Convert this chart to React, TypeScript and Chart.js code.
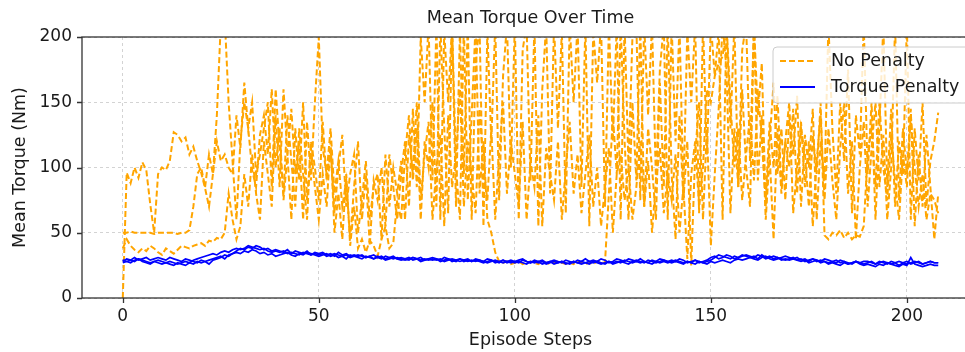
import React, { useEffect, useRef } from "react";
import { Chart, registerables } from "chart.js";

Chart.register(...registerables);

const chartTitle = "Mean Torque Over Time";
const xLabel = "Episode Steps";
const yLabel = "Mean Torque (Nm)";
const seriesNames = ["No Penalty", "Torque Penalty"];
const xTicks = [0, 50, 100, 150, 200];
const yTicks = [0, 50, 100, 150, 200];
const xMin = -10.4;
const xMax = 218.4;
const yMin = 0;
const yMax = 200;

const steps: number[] = Array.from({ length: 209 }, (_, i) => i);

const noPenaltyA = [
  0, 96, 88, 100, 92, 104, 98, 72, 50, 95,
  100, 98, 105, 127, 125, 120, 123, 110, 116, 105,
  96, 84, 70, 95, 140, 210, 215, 150, 105, 60,
  120, 150, 130, 98, 85, 125, 140, 110, 160, 100,
  130, 75, 110, 145, 95, 120, 60, 135, 90, 150,
  200, 115, 95, 130, 80, 105, 70, 90, 45, 85,
  120, 60, 95, 40, 90, 75, 100, 55, 110, 85,
  60, 95, 120, 70, 145, 85, 200, 150, 210, 90,
  210, 60, 205, 150, 210, 70, 205, 95, 210, 60,
  180, 210, 55, 205, 120, 210, 75, 170, 210, 100,
  210, 60, 190, 210, 90, 210, 55, 160, 210, 80,
  210, 130, 205, 65, 210, 150, 210, 85, 210, 55,
  205, 165, 210, 70, 210, 120, 210, 60, 210, 100,
  200, 210, 75, 210, 140, 210, 90, 175, 210, 60,
  210, 120, 210, 80, 205, 150, 210, 65, 210, 110,
  210, 170, 205, 60, 210, 130, 210, 85, 190, 210,
  105, 210, 140, 180, 70, 120, 165, 95, 130, 75,
  140, 110, 155, 70, 125, 100, 145, 60, 120, 90,
  210, 130, 80, 150, 105, 175, 65, 140, 110, 210,
  95, 150, 60, 130, 210, 85, 145, 70, 120, 95,
  210, 60, 130, 90, 150, 70, 105, 120, 142,
];

const noPenaltyB = [
  50, 50, 51, 50, 50, 50, 50, 50, 49, 50,
  50, 50, 50, 50, 49, 50, 50, 52, 70, 95,
  100, 85, 110, 95, 120, 105, 110, 100, 95, 140,
  115, 165, 130, 150, 95, 110, 130, 150, 85, 160,
  115, 80, 140, 105, 70, 130, 95, 60, 120, 100,
  75, 135, 90, 115, 65, 100, 125, 70, 95, 110,
  50, 75, 105, 60, 85, 95, 45, 110, 70, 100,
  80, 105, 60, 125, 95, 150, 75, 110, 135, 60,
  100, 125, 55, 140, 85, 110, 160, 70, 120, 95,
  65, 145, 100, 75, 130, 60, 110, 150, 80, 120,
  95, 70, 135, 60, 105, 85, 140, 55, 115, 95,
  75, 120, 60, 100, 135, 80, 110, 65, 95, 125,
  70, 100, 55, 85, 115, 50, 95, 110, 75, 100,
  60, 85, 120, 70, 105, 50, 90, 115, 65, 95,
  75, 110, 50, 85, 30, 95, 120, 70, 100, 160,
  150, 170, 180, 185, 210, 150, 100, 130, 75, 110,
  140, 90, 160, 120, 75, 135, 100, 155, 85, 120,
  100, 145, 80, 130, 110, 70, 125, 95, 150, 48,
  45, 50, 48, 52, 46, 50, 45, 48, 47, 55,
  110, 130, 85, 150, 100, 75, 125, 90, 60, 110,
  85, 140, 100, 70, 95, 60, 80, 75, 65,
];

const noPenaltyC = [
  38, 45, 40, 37, 35, 38, 36, 40, 38, 35,
  33, 38, 36, 34, 37, 40, 39, 38, 40, 41,
  42, 40, 44, 43, 46, 45, 50, 80, 60, 45,
  55, 95, 70, 110, 80, 60, 120, 95, 70, 140,
  85, 160, 110, 60, 130, 90, 150, 75, 115, 85,
  60, 95, 70, 120, 50, 80, 45, 95, 40, 70,
  38, 45, 35, 44, 40, 32, 45, 55, 38, 42,
  75, 60, 110, 140, 90, 130, 60, 120, 100, 150,
  70, 210, 130, 65, 210, 100, 60, 210, 75, 140,
  210, 80, 120, 60, 50, 35, 28, 27, 28, 26,
  27, 28, 26, 27, 28, 27, 26, 28, 27, 26,
  27, 28, 27, 26, 27, 26, 28, 27, 26, 27,
  26, 28, 27, 27, 80, 140, 95, 210, 120, 60,
  150, 90, 210, 70, 130, 100, 60, 165, 85, 210,
  95, 45, 140, 75, 120, 25, 110, 150, 60, 130,
  40, 95, 145, 210, 175, 65, 130, 85, 160, 100,
  70, 210, 90, 140, 60, 110, 45, 130, 80, 120,
  150, 65, 100, 135, 85, 120, 55, 105, 140, 75,
  130, 90, 60, 115, 150, 80, 120, 45, 100, 135,
  70, 115, 150, 85, 125, 60, 100, 210, 75, 130,
  95, 145, 55, 110, 70, 125, 85, 45, 80,
];

const torquePenaltyA = [
  27, 28, 29, 28, 30, 29, 28, 27, 28, 29,
  28, 27, 28, 27, 26, 27, 28, 27, 29, 30,
  31, 32, 33, 34, 33, 35, 36, 35, 37, 38,
  37, 38, 40, 39, 38, 37, 38, 36, 35, 36,
  35, 36, 34, 35, 34, 33, 35, 34, 33, 34,
  33, 34, 32, 33, 34, 33, 32, 33, 31, 32,
  33, 32, 31, 32, 30, 31, 32, 30, 31, 30,
  31, 30, 29, 30, 31, 30, 29, 30, 29, 30,
  29, 30, 28, 29, 30, 29, 28, 29, 28, 29,
  28, 29, 28, 27, 28, 29, 28, 27, 28, 27,
  28, 27, 29, 28, 27, 28, 27, 28, 26, 27,
  28, 27, 28, 26, 27, 28, 27, 26, 27, 28,
  27, 28, 27, 26, 28, 27, 28, 27, 29, 28,
  27, 28, 27, 28, 27, 26, 28, 27, 28, 27,
  28, 29, 28, 27, 28, 27, 29, 28, 27, 28,
  29, 31, 33, 32, 31, 30, 32, 31, 32, 33,
  32, 31, 33, 32, 30, 31, 32, 31, 30, 29,
  30, 31, 29, 30, 28, 29, 30, 28, 29, 28,
  27, 28, 29, 27, 28, 26, 27, 28, 27, 26,
  27, 28, 26, 27, 28, 27, 26, 27, 28, 27,
  26, 27, 28, 27, 26, 27, 28, 27, 27,
];

const torquePenaltyB = [
  29, 28, 27, 29, 30, 28, 27, 26, 28, 27,
  26, 27, 26, 25, 27, 26, 25, 27, 26, 28,
  27, 28, 29, 30, 31, 32, 30, 33, 34, 35,
  34, 36, 35, 37, 36, 34, 35, 33, 34, 32,
  33, 34, 35, 33, 32, 34, 33, 35, 34, 33,
  32, 33, 34, 32, 33, 31, 32, 30, 33, 32,
  31, 30, 32, 31, 30, 32, 31, 29, 30, 31,
  30, 29, 30, 31, 29, 30, 28, 29, 30, 29,
  30, 28, 29, 30, 28, 29, 30, 28, 29, 28,
  29, 28, 27, 28, 29, 27, 28, 29, 27, 28,
  27, 28, 27, 26, 28, 27, 28, 26, 27, 28,
  26, 27, 28, 27, 26, 28, 27, 28, 27, 26,
  28, 27, 26, 27, 28, 26, 27, 28, 27, 26,
  28, 29, 28, 27, 29, 28, 27, 28, 29, 28,
  27, 28, 27, 26, 28, 27, 26, 28, 27, 26,
  28, 27, 28, 29, 28, 27, 29, 30, 29, 30,
  31, 30, 29, 31, 32, 30, 29, 30, 31, 32,
  31, 30, 29, 28, 29, 27, 28, 29, 27, 28,
  26, 27, 26, 25, 27, 26, 27, 28, 26, 25,
  26, 25, 24, 26, 25, 27, 26, 25, 24, 26,
  25, 31, 26, 25, 24, 25, 26, 25, 25,
];

const torquePenaltyC = [
  28, 30, 29, 31, 29, 30, 31, 29, 30, 31,
  30, 29, 31, 30, 29, 28, 30, 29, 28, 27,
  29, 28, 26, 29, 30, 31, 33, 32, 34, 36,
  38, 37, 39, 38, 40, 39, 37, 38, 36, 37,
  36, 35, 37, 34, 36, 35, 34, 36, 33, 35,
  34, 35, 33, 34, 32, 35, 33, 34, 32, 33,
  32, 33, 31, 32, 33, 31, 30, 32, 31, 32,
  30, 31, 30, 29, 31, 30, 31, 29, 30, 31,
  30, 29, 31, 30, 29, 28, 30, 29, 30, 28,
  30, 29, 28, 30, 29, 28, 27, 29, 28, 29,
  28, 29, 30, 28, 27, 29, 28, 29, 27, 28,
  29, 28, 27, 29, 28, 27, 29, 28, 30, 28,
  29, 28, 30, 29, 27, 28, 30, 29, 28, 30,
  29, 28, 30, 28, 27, 29, 28, 30, 29, 28,
  29, 28, 30, 29, 27, 28, 29, 27, 28, 29,
  31, 32, 30, 31, 33, 32, 30, 31, 33, 32,
  31, 32, 30, 33, 31, 32, 30, 31, 29, 30,
  29, 30, 31, 29, 30, 28, 30, 29, 28, 30,
  29, 28, 27, 29, 28, 27, 26, 28, 27, 28,
  28, 27, 26, 28, 27, 26, 28, 27, 25, 27,
  28, 26, 27, 28, 26, 27, 28, 27, 27,
];

const ORANGE = "#FFA500";
const BLUE = "#0000FF";
const FONT = "'DejaVu Sans', sans-serif";
const TEXT = "#1a1a1a";

const toPoints = (arr: number[]) => steps.map((s, i) => ({ x: s, y: arr[i] }));

const decorPlugin = {
  id: "decor",
  afterDraw(chart: any) {
    const { ctx, chartArea: a, scales } = chart;
    ctx.save();
    ctx.strokeStyle = "#333333";
    ctx.lineWidth = 1.3;
    ctx.setLineDash([]);
    ctx.strokeRect(a.left, a.top, a.right - a.left, a.bottom - a.top);
    ctx.beginPath();
    for (const v of xTicks) {
      const px = Math.round(scales.x.getPixelForValue(v)) + 0.5;
      ctx.moveTo(px, a.bottom);
      ctx.lineTo(px, a.bottom + 5);
    }
    for (const v of yTicks) {
      const py = Math.round(scales.y.getPixelForValue(v)) + 0.5;
      ctx.moveTo(a.left, py);
      ctx.lineTo(a.left - 5, py);
    }
    ctx.stroke();
    ctx.fillStyle = TEXT;
    ctx.font = `17.5px ${FONT}`;
    ctx.textAlign = "center";
    ctx.textBaseline = "middle";
    ctx.fillText(chartTitle, (a.left + a.right) / 2, 18);
    const bx = 773, by = 47, bw = 198, bh = 56, r = 4;
    ctx.beginPath();
    ctx.moveTo(bx + r, by);
    ctx.lineTo(bx + bw - r, by);
    ctx.quadraticCurveTo(bx + bw, by, bx + bw, by + r);
    ctx.lineTo(bx + bw, by + bh - r);
    ctx.quadraticCurveTo(bx + bw, by + bh, bx + bw - r, by + bh);
    ctx.lineTo(bx + r, by + bh);
    ctx.quadraticCurveTo(bx, by + bh, bx, by + bh - r);
    ctx.lineTo(bx, by + r);
    ctx.quadraticCurveTo(bx, by, bx + r, by);
    ctx.closePath();
    ctx.fillStyle = "rgba(255,255,255,0.8)";
    ctx.fill();
    ctx.strokeStyle = "#cccccc";
    ctx.lineWidth = 1;
    ctx.stroke();
    const rows = [
      { y: 61, color: ORANGE, dash: [6, 3], width: 2, text: seriesNames[0] },
      { y: 87, color: BLUE, dash: [], width: 1.8, text: seriesNames[1] },
    ];
    for (const row of rows) {
      ctx.beginPath();
      ctx.setLineDash(row.dash);
      ctx.strokeStyle = row.color;
      ctx.lineWidth = row.width;
      ctx.moveTo(780, row.y);
      ctx.lineTo(815, row.y);
      ctx.stroke();
      ctx.setLineDash([]);
      ctx.fillStyle = TEXT;
      ctx.font = `17.5px ${FONT}`;
      ctx.textAlign = "left";
      ctx.textBaseline = "middle";
      ctx.fillText(row.text, 831, row.y);
    }
    ctx.restore();
  },
};

export default function App() {
  const ref = useRef<HTMLCanvasElement | null>(null);

  useEffect(() => {
    if (!ref.current) return;
    const orange = [noPenaltyA, noPenaltyB, noPenaltyC].map((arr, i) => ({
      label: seriesNames[0] + " " + (i + 1),
      data: toPoints(arr),
      borderColor: ORANGE,
      backgroundColor: ORANGE,
      borderWidth: 2,
      borderDash: [6, 3],
      pointRadius: 0,
      tension: 0,
      order: 2,
    }));
    const blue = [torquePenaltyA, torquePenaltyB, torquePenaltyC].map((arr, i) => ({
      label: seriesNames[1] + " " + (i + 1),
      data: toPoints(arr),
      borderColor: BLUE,
      backgroundColor: BLUE,
      borderWidth: 1.7,
      pointRadius: 0,
      tension: 0,
      order: 1,
    }));
    const chart = new Chart(ref.current, {
      type: "line",
      data: { datasets: [...orange, ...blue] as any },
      options: {
        animation: false,
        responsive: false,
        devicePixelRatio: 1,
        layout: { padding: { left: 0, right: 11, top: 37, bottom: 0 } },
        plugins: {
          legend: { display: false },
          title: { display: false },
          tooltip: { enabled: false },
        },
        scales: {
          x: {
            type: "linear",
            min: xMin,
            max: xMax,
            afterBuildTicks: (s: any) => {
              s.ticks = xTicks.map((v) => ({ value: v }));
            },
            afterFit: (s: any) => {
              s.height = 54;
            },
            grid: { color: "#c8c8c8", lineWidth: 0.8, drawTicks: false },
            border: { display: false, dash: [3, 3] },
            ticks: {
              padding: 8,
              maxRotation: 0,
              color: TEXT,
              font: { family: FONT, size: 17 },
            },
            title: {
              display: true,
              text: xLabel,
              color: TEXT,
              font: { family: FONT, size: 17.5 },
              padding: { top: 0, bottom: 1 },
            },
          },
          y: {
            type: "linear",
            min: yMin,
            max: yMax,
            afterBuildTicks: (s: any) => {
              s.ticks = yTicks.map((v) => ({ value: v }));
            },
            afterFit: (s: any) => {
              s.width = 82;
            },
            grid: { color: "#c8c8c8", lineWidth: 0.8, drawTicks: false },
            border: { display: false, dash: [3, 3] },
            ticks: {
              padding: 10,
              color: TEXT,
              font: { family: FONT, size: 17 },
            },
            title: {
              display: true,
              text: yLabel,
              color: TEXT,
              font: { family: FONT, size: 17.5 },
              padding: { top: 10, bottom: 0 },
            },
          },
        },
      },
      plugins: [decorPlugin],
    });
    return () => chart.destroy();
  }, []);

  return (
    <div
      style={{
        position: "absolute",
        left: 0,
        top: 0,
        width: 965,
        height: 352,
        overflow: "hidden",
        background: "#ffffff",
      }}
    >
      <canvas ref={ref} width={990} height={352} style={{ display: "block" }} />
    </div>
  );
}
